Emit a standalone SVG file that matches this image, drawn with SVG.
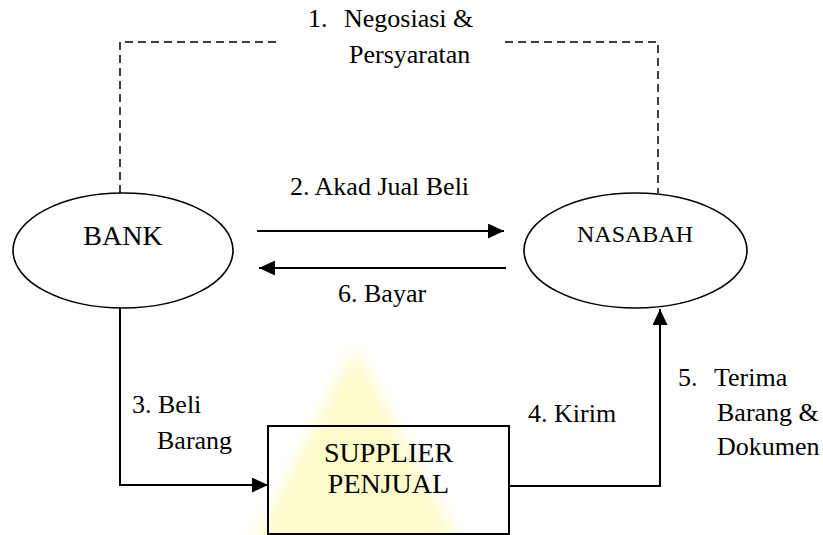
<svg xmlns="http://www.w3.org/2000/svg" width="823" height="535" viewBox="0 0 823 535">
  <style>
    text { font-family: Liberation Serif, DejaVu Serif, Times New Roman, serif; }
    .lbl { font-size: 26px; }
    .node { fill: #fff; stroke: #000; stroke-width: 1.6; }
    .line { fill: none; stroke: #000; stroke-width: 2; }
    .dash { fill: none; stroke: #000; stroke-width: 1.5; stroke-dasharray: 8 5; }
  </style>
  <defs>
    <marker id="arr" markerUnits="userSpaceOnUse" markerWidth="16" markerHeight="15" refX="16" refY="7.5" orient="auto">
      <path d="M0,0 L16,7.5 L0,15 z" fill="#000"/>
    </marker>
    <filter id="blur" x="-30%" y="-30%" width="160%" height="160%">
      <feGaussianBlur stdDeviation="8"/>
    </filter>
  </defs>
  <rect width="823" height="535" fill="#fff"/>
  <g id="watermark">
    <polygon points="355,348 252,545 460,545" fill="#fff48a" opacity="0.45" filter="url(#blur)"/>
  </g>
  <g id="connectors">
    <path class="dash" d="M120,193 V42 H280"/>
    <path class="dash" d="M505,42 H658 V193"/>
    <line class="line" x1="257" y1="231" x2="504" y2="231" marker-end="url(#arr)"/>
    <line class="line" x1="506" y1="268" x2="259" y2="268" marker-end="url(#arr)"/>
    <path class="line" d="M120,308 V485 H268" marker-end="url(#arr)"/>
    <path class="line" d="M509,486 H660 V309" marker-end="url(#arr)"/>
    <text class="lbl" font-family="Liberation Serif" y="27"><tspan x="308">1.</tspan><tspan x="344">Negosiasi &amp;</tspan></text>
    <text class="lbl" font-family="Liberation Serif" x="349" y="63">Persyaratan</text>
    <text class="lbl" font-family="Liberation Serif" x="290" y="195">2. Akad Jual Beli</text>
    <text class="lbl" font-family="Liberation Serif" x="338" y="302">6. Bayar</text>
    <text class="lbl" font-family="Liberation Serif" x="132" y="413">3. Beli</text>
    <text class="lbl" font-family="Liberation Serif" x="157" y="449">Barang</text>
    <text class="lbl" font-family="Liberation Serif" x="528" y="422">4. Kirim</text>
    <text class="lbl" font-family="Liberation Serif" y="386"><tspan x="678">5.</tspan><tspan x="714">Terima</tspan></text>
    <text class="lbl" font-family="Liberation Serif" x="717" y="421">Barang &amp;</text>
    <text class="lbl" font-family="Liberation Serif" x="717" y="455">Dokumen</text>
  </g>
  <g id="bank">
    <ellipse class="node" cx="123" cy="250.5" rx="110" ry="57.5"/>
    <text font-family="Liberation Serif" x="123" y="245" font-size="28" text-anchor="middle">BANK</text>
  </g>
  <g id="nasabah">
    <ellipse class="node" cx="635.5" cy="250.5" rx="111.5" ry="57.5"/>
    <text font-family="Liberation Serif" x="635" y="242" font-size="24" text-anchor="middle">NASABAH</text>
  </g>
  <g id="supplier">
    <rect x="268" y="426" width="241" height="108" fill="none" stroke="#000" stroke-width="2"/>
    <text font-family="Liberation Serif" x="388.5" y="462" font-size="28" text-anchor="middle">SUPPLIER</text>
    <text font-family="Liberation Serif" x="388.5" y="493" font-size="28" text-anchor="middle">PENJUAL</text>
  </g>
</svg>
